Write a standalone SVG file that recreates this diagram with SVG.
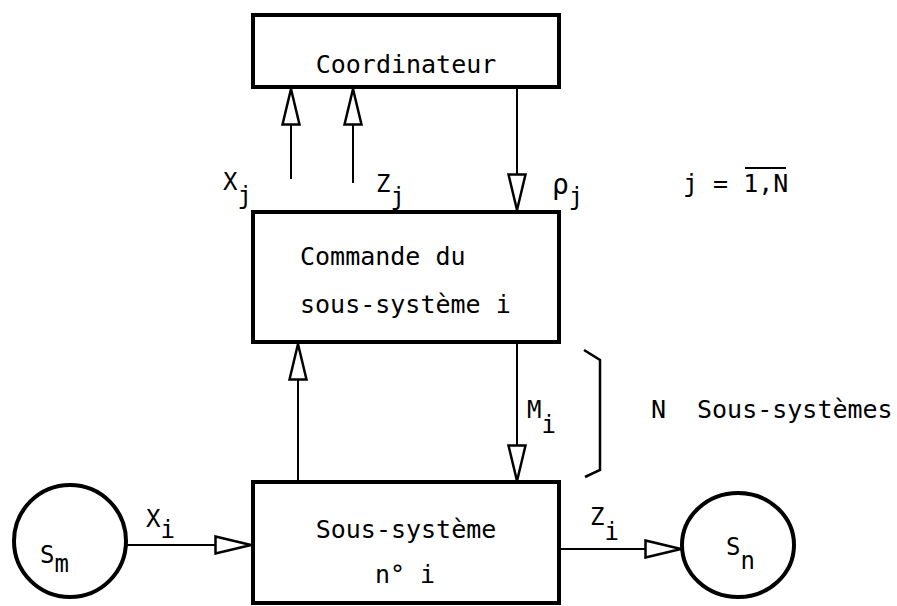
<svg xmlns="http://www.w3.org/2000/svg" width="897" height="606" viewBox="0 0 897 606">
<style>
  .box { fill: #fff; stroke: #000; stroke-width: 4; }
  .circ { fill: #fff; stroke: #000; stroke-width: 4; }
  .conn { fill: none; stroke: #000; stroke-width: 2; marker-end: url(#open); }
  .plain { fill: none; stroke: #000; stroke-width: 2.5; }
  text { font-family: "DejaVu Sans Mono", "Liberation Mono", monospace; fill: #000; }
  .t { font-size: 25px; }
  .l { font-size: 24px; }
</style>
<defs>
  <marker id="open" viewBox="0 0 38 20" refX="37" refY="10" markerWidth="38" markerHeight="20" markerUnits="userSpaceOnUse" orient="auto">
    <polygon points="1.5,1.5 37,10 1.5,18.5" fill="#fff" stroke="#000" stroke-width="2.5" stroke-linejoin="miter"/>
  </marker>
</defs>
<rect width="897" height="606" fill="#fff"/>

<g id="connectors">
  <line class="conn" x1="291" y1="179" x2="291" y2="89"/>
  <line class="conn" x1="353" y1="183" x2="353" y2="89"/>
  <line class="conn" x1="517" y1="87" x2="517" y2="210"/>
  <line class="conn" x1="298" y1="480" x2="298" y2="344"/>
  <line class="conn" x1="517" y1="344" x2="517" y2="481"/>
  <line class="conn" x1="126" y1="545" x2="251" y2="545"/>
  <line class="conn" x1="561" y1="549" x2="681" y2="549"/>
  <polyline class="plain" points="584,350 600,360 600,470 585,477"/>
</g>

<g id="coordinateur">
  <rect class="box" x="253" y="15" width="306" height="72"/>
  <text class="t" x="406" y="73" text-anchor="middle">Coordinateur</text>
</g>

<g id="commande">
  <rect class="box" x="253" y="212" width="306" height="130"/>
  <text class="t" x="300" y="265">Commande du</text>
  <text class="t" x="300" y="313">sous-système i</text>
</g>

<g id="sous-systeme">
  <rect class="box" x="253" y="482" width="306" height="121"/>
  <text class="t" x="406" y="538" text-anchor="middle">Sous-système</text>
  <text class="t" x="405" y="583" text-anchor="middle">n° i</text>
</g>

<g id="sm">
  <circle class="circ" cx="70" cy="541" r="56"/>
  <text class="l" x="40" y="563">S<tspan dy="9">m</tspan></text>
</g>

<g id="sn">
  <ellipse class="circ" cx="738" cy="545" rx="56" ry="52"/>
  <text class="l" x="726" y="555">S<tspan dy="14">n</tspan></text>
</g>

<g id="labels">
  <text class="l" x="223" y="190">X<tspan dy="14">j</tspan></text>
  <text class="l" x="376" y="192">Z<tspan dy="13">j</tspan></text>
  <text class="l" x="552" y="194"><tspan font-size="28">ρ</tspan><tspan dy="11">j</tspan></text>
  <text class="l" x="527" y="418">M<tspan dy="15">i</tspan></text>
  <text class="l" x="146" y="527">X<tspan dy="11">i</tspan></text>
  <text class="l" x="590" y="525">Z<tspan dy="15">i</tspan></text>
  <text class="t" x="683" y="192">j = 1,N</text>
  <line x1="745" y1="168" x2="786" y2="168" stroke="#000" stroke-width="2"/>
  <text class="t" x="651" y="418">N</text>
  <text class="t" x="697" y="418">Sous-systèmes</text>
</g>
</svg>
